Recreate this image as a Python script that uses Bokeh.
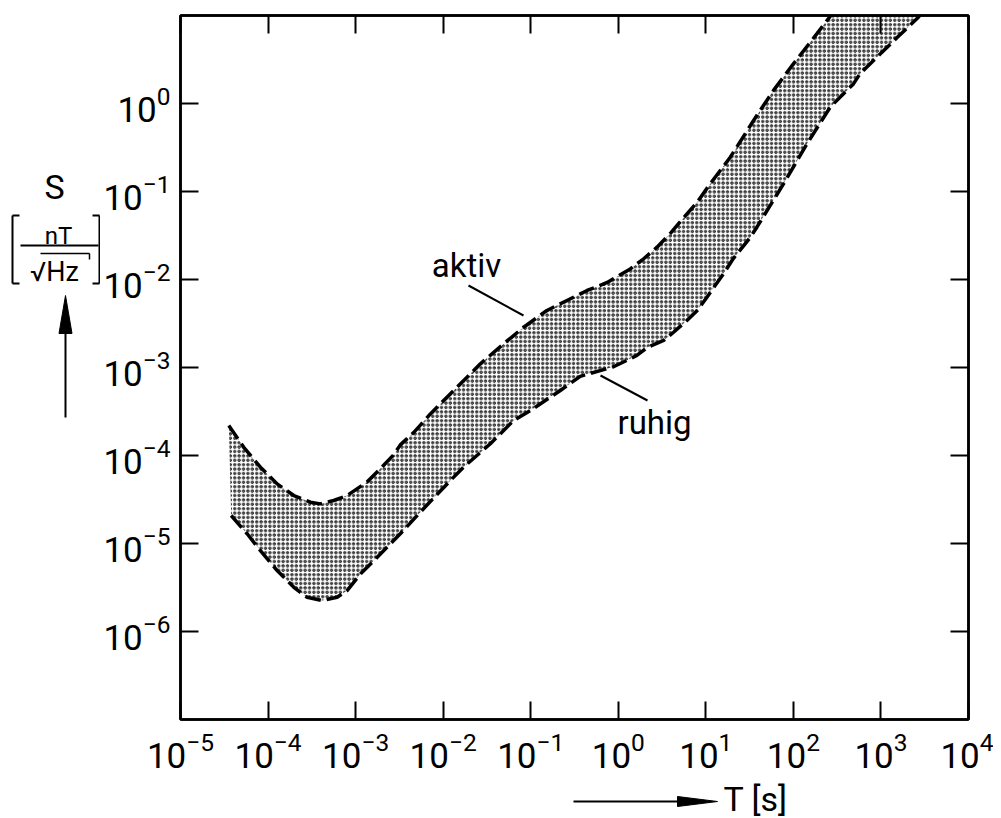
from bokeh.plotting import figure
from bokeh.layouts import row, column
from bokeh.models import (LogAxis, FixedTicker, CustomJSTickFormatter, Label, Arrow,
                          ColumnDataSource, Range1d)
from bokeh.core.properties import value
from bokeh.embed import file_html
from bokeh.resources import INLINE

# ---- data ----
T_ticks = [1e-5, 1e-4, 1e-3, 1e-2, 1e-1, 1e0, 1e1, 1e2, 1e3, 1e4]
S_ticks = [1e-6, 1e-5, 1e-4, 1e-3, 1e-2, 1e-1, 1e0]

# upper boundary ("aktiv")
aktiv_T = [3.56e-5, 5.28e-5, 8.18e-5, 1.27e-4, 1.97e-4, 3.05e-4, 3.96e-4, 5.62e-4, 8.0e-4,
           1.35e-3, 1.92e-3, 2.72e-3, 3.24e-3, 4.6e-3, 7.1e-3, 1.44e-2, 2.66e-2, 4.91e-2,
           8.3e-2, 0.153, 0.259, 0.44, 0.748, 1.37, 1.95, 2.77, 3.98, 5.56, 7.98, 11.2,
           19.0, 35.1, 59.3, 100, 185, 284, 794]
aktiv_S = [2.19e-4, 1.24e-4, 7.36e-5, 4.76e-5, 3.51e-5, 2.95e-5, 2.82e-5, 3.08e-5, 3.51e-5,
           5.0e-5, 7.1e-5, 1.02e-4, 1.32e-4, 1.82e-4, 2.95e-4, 5.98e-4, 1.10e-3, 1.86e-3,
           2.87e-3, 4.45e-3, 5.77e-3, 7.5e-3, 9.25e-3, 1.32e-2, 1.72e-2, 2.33e-2, 3.39e-2,
           5.01e-2, 7.59e-2, 0.122, 0.245, 0.641, 1.41, 2.82, 6.19, 10.8, 40]

# lower boundary ("ruhig")
ruhig_T = [3.79e-5, 5.77e-5, 8.18e-5, 1.27e-4, 1.97e-4, 2.79e-4, 4.15e-4, 6.15e-4, 8.0e-4,
           1.14e-3, 1.92e-3, 3.24e-3, 6.0e-3, 1.21e-2, 1.71e-2, 3.46e-2, 6.38e-2, 9.9e-2,
           0.218, 0.368, 0.883, 1.63, 2.14, 3.30, 4.25, 6.08, 7.98, 10.3, 15.9, 20.6, 32.1,
           38.3, 50.2, 77.1, 143, 263, 485, 579, 1530, 2660, 3980]
ruhig_S = [2.08e-5, 1.29e-5, 8.3e-6, 4.93e-6, 3.18e-6, 2.45e-6, 2.25e-6, 2.45e-6, 2.92e-6,
           4.52e-6, 7.6e-6, 1.29e-5, 2.5e-5, 5.2e-5, 7.36e-5, 1.36e-4, 2.5e-4, 3.24e-4,
           5.48e-4, 7.94e-4, 1.02e-3, 1.37e-3, 1.69e-3, 2.03e-3, 2.50e-3, 3.42e-3, 4.45e-3,
           6.30e-3, 1.16e-2, 1.73e-2, 3.0e-2, 3.93e-2, 6.10e-2, 0.122, 0.348, 0.908, 1.67,
           2.19, 5.62, 9.48, 15.8]

FONT = "Roboto"

# ---- main plot ----
p = figure(x_axis_type="log", y_axis_type="log",
           x_range=Range1d(1e-5, 1e4), y_range=Range1d(1e-7, 1e1),
           width=893, height=777,
           min_border_left=80, min_border_right=25,
           min_border_top=15, min_border_bottom=58,
           output_backend="svg", toolbar_location=None)
p.background_fill_color = "white"
p.border_fill_color = "white"
p.xgrid.visible = False
p.ygrid.visible = False
p.outline_line_color = "black"
p.outline_line_width = 2.5

def style_axis(ax):
    ax.major_tick_in = 18
    ax.major_tick_out = 0
    ax.major_tick_line_width = 2
    ax.major_tick_line_color = "black"
    ax.minor_tick_line_color = None
    ax.axis_line_width = 2.5
    ax.axis_line_color = "black"
    ax.major_label_text_font = FONT
    ax.major_label_text_font_size = "35px"
    ax.major_label_text_color = "black"

xa = p.xaxis[0]
xa.ticker = FixedTicker(ticks=T_ticks)
style_axis(xa)
xa.major_label_standoff = 12

ya = p.yaxis[0]
ya.ticker = FixedTicker(ticks=S_ticks)
style_axis(ya)
ya.major_label_standoff = 10

blank = CustomJSTickFormatter(code="return ''")
top = LogAxis(ticker=FixedTicker(ticks=T_ticks), formatter=blank)
style_axis(top)
top.major_label_text_font_size = "0px"
top.major_label_standoff = 0
p.add_layout(top, "above")

right = LogAxis(ticker=FixedTicker(ticks=S_ticks), formatter=blank)
style_axis(right)
right.major_label_text_font_size = "0px"
right.major_label_standoff = 0
p.add_layout(right, "right")

# band (stippled) and dashed boundary curves
band = ColumnDataSource(data=dict(x=aktiv_T + ruhig_T[::-1], y=aktiv_S + ruhig_S[::-1]))
p.patch("x", "y", source=band, fill_color=None, line_color=None,
        hatch_pattern="ring", hatch_color="black", hatch_scale=4.4, hatch_weight=1.0)

src_a = ColumnDataSource(data=dict(x=aktiv_T, y=aktiv_S))
src_r = ColumnDataSource(data=dict(x=ruhig_T, y=ruhig_S))
p.line("x", "y", source=src_a, line_color="black", line_width=3.5, line_dash="16 6")
p.line("x", "y", source=src_r, line_color="black", line_width=3.5, line_dash="16 6")

def label(text, x, y, size, align="center"):
    p.add_layout(Label(x=x, y=y, x_units="screen", y_units="screen", text=text,
                       text_font=FONT, text_font_size=size, text_align=align,
                       text_baseline="alphabetic", text_color="black"))

def seg(x0, y0, x1, y1, w=2):
    p.add_layout(Arrow(x_start=x0, y_start=y0, x_end=x1, y_end=y1,
                       start_units="screen", end_units="screen", end=None,
                       line_width=w, line_color="black"))

label("aktiv", 286, 454, "33px")
seg(288, 434, 343, 404)
label("ruhig", 437, 297, "33px", align="left")
seg(420, 344, 467, 319)

# ---- side panels (coordinates = page pixels) ----
def blank_fig(w, h, xr, yr):
    f = figure(width=w, height=h, x_range=xr, y_range=yr,
               x_axis_location=None, y_axis_location=None,
               min_border=0, output_backend="svg", toolbar_location=None)
    f.xgrid.visible = False
    f.ygrid.visible = False
    f.outline_line_color = None
    f.background_fill_color = "white"
    f.border_fill_color = "white"
    return f

# left panel: its frame is aligned with the main frame (page y 15..719)
L = blank_fig(100, 777, Range1d(0, 100), Range1d(719, 15))
L.text(x=[54], y=[186], text=["S"], text_font=value(FONT), text_font_size="34px",
       text_align="center", text_baseline="alphabetic", text_color="black")
L.text(x=[58], y=[235], text=["nT"], text_font=value(FONT), text_font_size="24px",
       text_align="center", text_baseline="alphabetic", text_color="black")
L.text(x=[54], y=[271], text=["\u221aHz"], text_font=value(FONT), text_font_size="27px",
       text_align="center", text_baseline="alphabetic", text_color="black")
L.segment(x0=[20, 12, 12, 12, 99, 99, 99], y0=[245, 215, 215, 283, 215, 215, 283],
          x1=[98, 12, 19, 19, 99, 92, 92], y1=[245, 283, 215, 283, 283, 215, 283],
          line_color="black", line_width=2)
L.segment(x0=[40, 89], y0=[253, 253], x1=[89, 89], y1=[253, 259],
          line_color="black", line_width=1.5)
L.segment(x0=[65], y0=[417], x1=[65], y1=[328], line_color="black", line_width=2)
L.patch(x=[58.5, 71.5, 65], y=[333, 333, 295], fill_color="black", line_color="black")

# bottom panel: x-axis label with arrow (page y 777..818)
B = blank_fig(993, 41, Range1d(0, 993), Range1d(818, 777))
B.segment(x0=[573], y0=[801], x1=[685], y1=[801], line_color="black", line_width=2)
B.patch(x=[677, 677, 717], y=[796, 806, 801], fill_color="black", line_color="black")
B.text(x=[723], y=[798], text=["T [s]"], text_font=value(FONT), text_font_size="34px",
       text_align="left", text_baseline="alphabetic", text_color="black")

layout = column(row(L, p, spacing=0), B, spacing=0)
open("out.html", "w").write(file_html(layout, INLINE))
